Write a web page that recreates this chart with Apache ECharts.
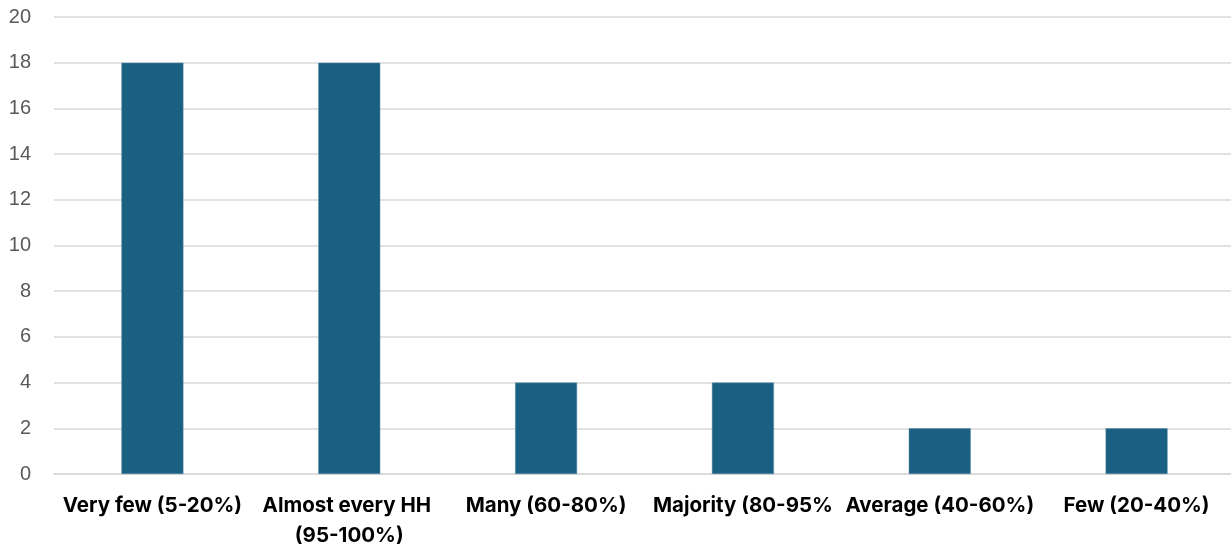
<!DOCTYPE html>
<html>
<head>
<meta charset="utf-8">
<script src="https://cdn.jsdelivr.net/npm/echarts@6/dist/echarts.min.js"></script>
<style>
  html, body { margin: 0; padding: 0; background: #ffffff; overflow: hidden; }
  #chart { width: 1231px; height: 545px; }
</style>
</head>
<body>
<div id="chart"></div>
<script>
// Share of households: number of responses per category
const categories = [
  'Very few (5-20%)',
  'Almost every HH (95-100%)',
  'Many (60-80%)',
  'Majority (80-95%',
  'Average (40-60%)',
  'Few (20-40%)'
];
const counts = [18, 18, 4, 4, 2, 2];
const yTicks = { min: 0, max: 20, interval: 2 };

const chart = echarts.init(document.getElementById('chart'), null, { renderer: 'canvas' });
chart.setOption({
  animation: false,
  backgroundColor: '#ffffff',
  grid: {
    left: 54, right: -4, top: 17, bottom: 71,
    containLabel: false,
    outerBoundsMode: 'none'
  },
  xAxis: {
    type: 'category',
    data: categories,
    axisLine: { show: true, lineStyle: { color: '#d9d9d9', width: 1.5 } },
    axisTick: { show: false },
    axisLabel: {
      interval: 0,
      margin: 17,
      color: '#000000',
      fontFamily: 'Inter',
      fontWeight: 'bold',
      fontSize: 20.5,
      lineHeight: 30,
      width: 196,
      overflow: 'break'
    }
  },
  yAxis: {
    type: 'value',
    min: yTicks.min,
    max: yTicks.max,
    interval: yTicks.interval,
    axisLine: { show: false },
    axisTick: { show: false },
    axisLabel: {
      margin: 23,
      color: '#595959',
      fontFamily: 'Liberation Sans',
      fontSize: 20
    },
    splitLine: { lineStyle: { color: '#d9d9d9', width: 1.5 } }
  },
  series: [{
    type: 'bar',
    data: counts,
    barWidth: 62,
    itemStyle: { color: '#1a6082', borderColor: '#5c8fa8', borderWidth: 0.5 }
  }]
});
</script>
</body>
</html>
